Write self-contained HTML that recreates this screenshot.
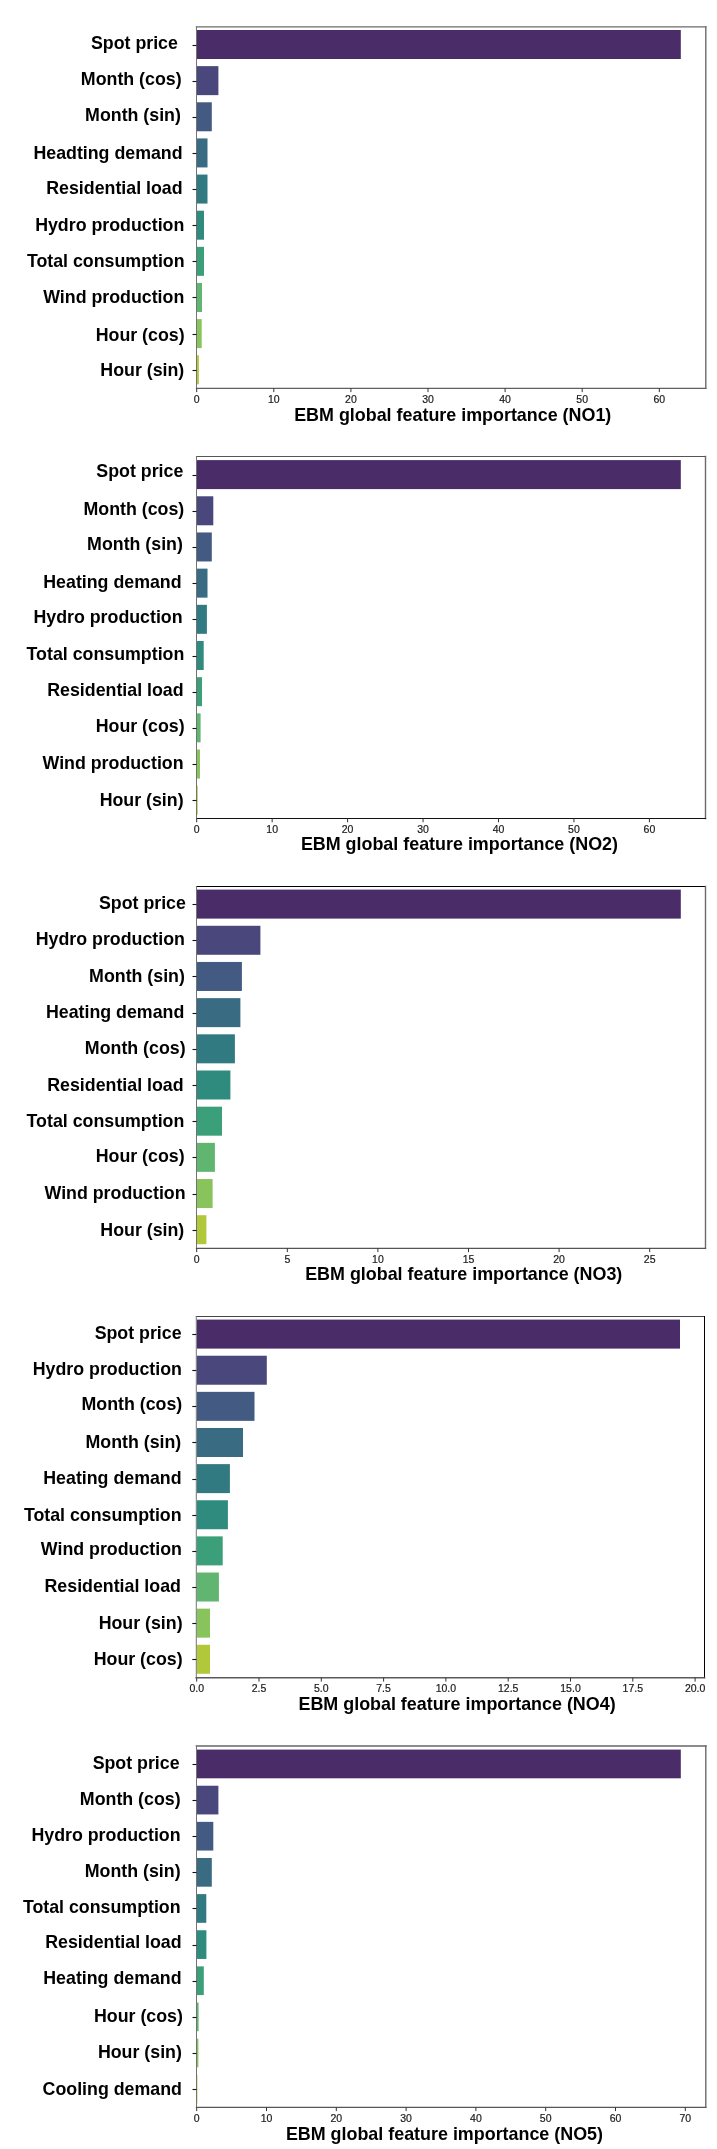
<!DOCTYPE html>
<html><head><meta charset="utf-8"><style>
html,body{margin:0;padding:0;background:#fff;}
body{width:717px;height:2149px;overflow:hidden;}
svg{display:block;}
text{will-change:transform;}
text{font-family:"Liberation Sans",sans-serif;}
.yl{font-size:17.8px;font-weight:bold;fill:#000;text-anchor:end;}
.xl{font-size:17.9px;font-weight:bold;fill:#000;}
.tk{font-size:10.5px;fill:#1a1a1a;stroke:#1a1a1a;stroke-width:0.2px;text-anchor:middle;}
</style></head><body>
<svg width="717" height="2149" viewBox="0 0 717 2149">
<rect width="717" height="2149" fill="#fff"/>
<rect x="197" y="30" width="483.8" height="29" fill="#492c68"/>
<rect x="197" y="66.14" width="21.4" height="29" fill="#4a477c"/>
<rect x="197" y="102.28" width="14.8" height="29" fill="#435a82"/>
<rect x="197" y="138.42" width="10.5" height="29" fill="#396b82"/>
<rect x="197" y="174.56" width="10.5" height="29" fill="#327a81"/>
<rect x="197" y="210.7" width="7" height="29" fill="#2e8b7e"/>
<rect x="197" y="246.84" width="7" height="29" fill="#3b9f7a"/>
<rect x="197" y="282.98" width="5" height="29" fill="#60b671"/>
<rect x="197" y="319.12" width="4.7" height="29" fill="#88c35b"/>
<rect x="197" y="355.26" width="1.9" height="29" fill="#b2c83b"/>
<line x1="196.5" y1="26.9" x2="705.8" y2="26.9" stroke="#6a6a6a" stroke-width="1.4" stroke-linecap="square"/>
<line x1="705.8" y1="26.9" x2="705.8" y2="388.3" stroke="#6a6a6a" stroke-width="1.4" stroke-linecap="square"/>
<line x1="196.5" y1="388.3" x2="705.8" y2="388.3" stroke="#606060" stroke-width="1.2" stroke-linecap="square"/>
<line x1="196.5" y1="26.9" x2="196.5" y2="388.3" stroke="#737373" stroke-width="1.0" stroke-linecap="square"/>
<line x1="192.5" y1="45.5" x2="196.5" y2="45.5" stroke="#111" stroke-width="1.1"/>
<line x1="192.5" y1="81.5" x2="196.5" y2="81.5" stroke="#111" stroke-width="1.1"/>
<line x1="192.5" y1="117.5" x2="196.5" y2="117.5" stroke="#111" stroke-width="1.1"/>
<line x1="192.5" y1="153.5" x2="196.5" y2="153.5" stroke="#111" stroke-width="1.1"/>
<line x1="192.5" y1="189.5" x2="196.5" y2="189.5" stroke="#111" stroke-width="1.1"/>
<line x1="192.5" y1="225.5" x2="196.5" y2="225.5" stroke="#111" stroke-width="1.1"/>
<line x1="192.5" y1="261.5" x2="196.5" y2="261.5" stroke="#111" stroke-width="1.1"/>
<line x1="192.5" y1="297.5" x2="196.5" y2="297.5" stroke="#111" stroke-width="1.1"/>
<line x1="192.5" y1="334.5" x2="196.5" y2="334.5" stroke="#111" stroke-width="1.1"/>
<line x1="192.5" y1="370.5" x2="196.5" y2="370.5" stroke="#111" stroke-width="1.1"/>
<text class="yl" x="177.9" y="49.3">Spot price</text>
<text class="yl" x="181.6" y="85">Month (cos)</text>
<text class="yl" x="180.9" y="120.7">Month (sin)</text>
<text class="yl" x="182.6" y="159">Headting demand</text>
<text class="yl" x="182.6" y="194">Residential load</text>
<text class="yl" x="184.3" y="231">Hydro production</text>
<text class="yl" x="184.6" y="267">Total consumption</text>
<text class="yl" x="184.3" y="303.3">Wind production</text>
<text class="yl" x="184.6" y="341">Hour (cos)</text>
<text class="yl" x="184.3" y="376">Hour (sin)</text>
<line x1="196.7" y1="388.3" x2="196.7" y2="392.1" stroke="#333" stroke-width="1"/>
<text class="tk" x="196.7" y="402.8">0</text>
<line x1="273.8" y1="388.3" x2="273.8" y2="392.1" stroke="#333" stroke-width="1"/>
<text class="tk" x="273.8" y="402.8">10</text>
<line x1="350.9" y1="388.3" x2="350.9" y2="392.1" stroke="#333" stroke-width="1"/>
<text class="tk" x="350.9" y="402.8">20</text>
<line x1="428" y1="388.3" x2="428" y2="392.1" stroke="#333" stroke-width="1"/>
<text class="tk" x="428" y="402.8">30</text>
<line x1="505.1" y1="388.3" x2="505.1" y2="392.1" stroke="#333" stroke-width="1"/>
<text class="tk" x="505.1" y="402.8">40</text>
<line x1="582.2" y1="388.3" x2="582.2" y2="392.1" stroke="#333" stroke-width="1"/>
<text class="tk" x="582.2" y="402.8">50</text>
<line x1="659.3" y1="388.3" x2="659.3" y2="392.1" stroke="#333" stroke-width="1"/>
<text class="tk" x="659.3" y="402.8">60</text>
<text class="xl" x="294.2" y="421.1">EBM global feature importance (NO1)</text>
<rect x="197" y="460.1" width="483.8" height="29" fill="#492c68"/>
<rect x="197" y="496.28" width="16.3" height="29" fill="#4a477c"/>
<rect x="197" y="532.46" width="14.8" height="29" fill="#435a82"/>
<rect x="197" y="568.64" width="10.5" height="29" fill="#396b82"/>
<rect x="197" y="604.82" width="9.9" height="29" fill="#327a81"/>
<rect x="197" y="641" width="6.7" height="29" fill="#2e8b7e"/>
<rect x="197" y="677.18" width="5" height="29" fill="#3b9f7a"/>
<rect x="197" y="713.36" width="3.6" height="29" fill="#60b671"/>
<rect x="197" y="749.54" width="3" height="29" fill="#88c35b"/>
<rect x="197" y="785.72" width="0.7" height="29" fill="#b2c83b"/>
<line x1="196.5" y1="456.5" x2="705.5" y2="456.5" stroke="#555" stroke-width="1.2" stroke-linecap="square"/>
<line x1="705.5" y1="456.5" x2="705.5" y2="818.5" stroke="#6a6a6a" stroke-width="1.4" stroke-linecap="square"/>
<line x1="196.5" y1="818.5" x2="705.5" y2="818.5" stroke="#111" stroke-width="1.1" stroke-linecap="square"/>
<line x1="196.5" y1="456.5" x2="196.5" y2="818.5" stroke="#737373" stroke-width="1.0" stroke-linecap="square"/>
<line x1="192.5" y1="475.5" x2="196.5" y2="475.5" stroke="#111" stroke-width="1.1"/>
<line x1="192.5" y1="511.5" x2="196.5" y2="511.5" stroke="#111" stroke-width="1.1"/>
<line x1="192.5" y1="547.5" x2="196.5" y2="547.5" stroke="#111" stroke-width="1.1"/>
<line x1="192.5" y1="583.5" x2="196.5" y2="583.5" stroke="#111" stroke-width="1.1"/>
<line x1="192.5" y1="619.5" x2="196.5" y2="619.5" stroke="#111" stroke-width="1.1"/>
<line x1="192.5" y1="656.5" x2="196.5" y2="656.5" stroke="#111" stroke-width="1.1"/>
<line x1="192.5" y1="692.5" x2="196.5" y2="692.5" stroke="#111" stroke-width="1.1"/>
<line x1="192.5" y1="728.5" x2="196.5" y2="728.5" stroke="#111" stroke-width="1.1"/>
<line x1="192.5" y1="764.5" x2="196.5" y2="764.5" stroke="#111" stroke-width="1.1"/>
<line x1="192.5" y1="800.5" x2="196.5" y2="800.5" stroke="#111" stroke-width="1.1"/>
<text class="yl" x="183.3" y="477.3">Spot price</text>
<text class="yl" x="184.3" y="515">Month (cos)</text>
<text class="yl" x="182.9" y="550">Month (sin)</text>
<text class="yl" x="181.6" y="588">Heating demand</text>
<text class="yl" x="182.6" y="622.7">Hydro production</text>
<text class="yl" x="184.3" y="660">Total consumption</text>
<text class="yl" x="183.6" y="696">Residential load</text>
<text class="yl" x="184.6" y="732.3">Hour (cos)</text>
<text class="yl" x="183.6" y="769.3">Wind production</text>
<text class="yl" x="183.6" y="806">Hour (sin)</text>
<line x1="196.7" y1="818.5" x2="196.7" y2="822.3" stroke="#333" stroke-width="1"/>
<text class="tk" x="196.7" y="833">0</text>
<line x1="272.15" y1="818.5" x2="272.15" y2="822.3" stroke="#333" stroke-width="1"/>
<text class="tk" x="272.15" y="833">10</text>
<line x1="347.6" y1="818.5" x2="347.6" y2="822.3" stroke="#333" stroke-width="1"/>
<text class="tk" x="347.6" y="833">20</text>
<line x1="423.05" y1="818.5" x2="423.05" y2="822.3" stroke="#333" stroke-width="1"/>
<text class="tk" x="423.05" y="833">30</text>
<line x1="498.5" y1="818.5" x2="498.5" y2="822.3" stroke="#333" stroke-width="1"/>
<text class="tk" x="498.5" y="833">40</text>
<line x1="573.95" y1="818.5" x2="573.95" y2="822.3" stroke="#333" stroke-width="1"/>
<text class="tk" x="573.95" y="833">50</text>
<line x1="649.4" y1="818.5" x2="649.4" y2="822.3" stroke="#333" stroke-width="1"/>
<text class="tk" x="649.4" y="833">60</text>
<text class="xl" x="300.9" y="850">EBM global feature importance (NO2)</text>
<rect x="197" y="889.6" width="483.8" height="29" fill="#492c68"/>
<rect x="197" y="925.78" width="63.4" height="29" fill="#4a477c"/>
<rect x="197" y="961.96" width="44.9" height="29" fill="#435a82"/>
<rect x="197" y="998.14" width="43.4" height="29" fill="#396b82"/>
<rect x="197" y="1034.32" width="37.9" height="29" fill="#327a81"/>
<rect x="197" y="1070.5" width="33.4" height="29" fill="#2e8b7e"/>
<rect x="197" y="1106.68" width="25" height="29" fill="#3b9f7a"/>
<rect x="197" y="1142.86" width="17.9" height="29" fill="#60b671"/>
<rect x="197" y="1179.04" width="15.6" height="29" fill="#88c35b"/>
<rect x="197" y="1215.22" width="9.4" height="29" fill="#b2c83b"/>
<line x1="196.5" y1="886.5" x2="705.5" y2="886.5" stroke="#000" stroke-width="1.1" stroke-linecap="square"/>
<line x1="705.5" y1="886.5" x2="705.5" y2="1248.3" stroke="#6a6a6a" stroke-width="1.4" stroke-linecap="square"/>
<line x1="196.5" y1="1248.3" x2="705.5" y2="1248.3" stroke="#555" stroke-width="1.2" stroke-linecap="square"/>
<line x1="196.5" y1="886.5" x2="196.5" y2="1248.3" stroke="#737373" stroke-width="1.0" stroke-linecap="square"/>
<line x1="192.5" y1="904.5" x2="196.5" y2="904.5" stroke="#111" stroke-width="1.1"/>
<line x1="192.5" y1="940.5" x2="196.5" y2="940.5" stroke="#111" stroke-width="1.1"/>
<line x1="192.5" y1="976.5" x2="196.5" y2="976.5" stroke="#111" stroke-width="1.1"/>
<line x1="192.5" y1="1013.5" x2="196.5" y2="1013.5" stroke="#111" stroke-width="1.1"/>
<line x1="192.5" y1="1049.5" x2="196.5" y2="1049.5" stroke="#111" stroke-width="1.1"/>
<line x1="192.5" y1="1085.5" x2="196.5" y2="1085.5" stroke="#111" stroke-width="1.1"/>
<line x1="192.5" y1="1121.5" x2="196.5" y2="1121.5" stroke="#111" stroke-width="1.1"/>
<line x1="192.5" y1="1157.5" x2="196.5" y2="1157.5" stroke="#111" stroke-width="1.1"/>
<line x1="192.5" y1="1194.5" x2="196.5" y2="1194.5" stroke="#111" stroke-width="1.1"/>
<line x1="192.5" y1="1230.5" x2="196.5" y2="1230.5" stroke="#111" stroke-width="1.1"/>
<text class="yl" x="185.9" y="909.3">Spot price</text>
<text class="yl" x="184.9" y="945.3">Hydro production</text>
<text class="yl" x="184.9" y="981.7">Month (sin)</text>
<text class="yl" x="184.3" y="1018.3">Heating demand</text>
<text class="yl" x="185.6" y="1054">Month (cos)</text>
<text class="yl" x="183.6" y="1091">Residential load</text>
<text class="yl" x="184.3" y="1126.7">Total consumption</text>
<text class="yl" x="184.6" y="1162.3">Hour (cos)</text>
<text class="yl" x="185.6" y="1199.3">Wind production</text>
<text class="yl" x="184.3" y="1236">Hour (sin)</text>
<line x1="196.7" y1="1248.3" x2="196.7" y2="1252.1" stroke="#333" stroke-width="1"/>
<text class="tk" x="196.7" y="1262.8">0</text>
<line x1="287.3" y1="1248.3" x2="287.3" y2="1252.1" stroke="#333" stroke-width="1"/>
<text class="tk" x="287.3" y="1262.8">5</text>
<line x1="377.9" y1="1248.3" x2="377.9" y2="1252.1" stroke="#333" stroke-width="1"/>
<text class="tk" x="377.9" y="1262.8">10</text>
<line x1="468.5" y1="1248.3" x2="468.5" y2="1252.1" stroke="#333" stroke-width="1"/>
<text class="tk" x="468.5" y="1262.8">15</text>
<line x1="559.1" y1="1248.3" x2="559.1" y2="1252.1" stroke="#333" stroke-width="1"/>
<text class="tk" x="559.1" y="1262.8">20</text>
<line x1="649.7" y1="1248.3" x2="649.7" y2="1252.1" stroke="#333" stroke-width="1"/>
<text class="tk" x="649.7" y="1262.8">25</text>
<text class="xl" x="305.2" y="1280">EBM global feature importance (NO3)</text>
<rect x="196.8" y="1319.6" width="483.2" height="29" fill="#492c68"/>
<rect x="196.8" y="1355.73" width="70" height="29" fill="#4a477c"/>
<rect x="196.8" y="1391.86" width="57.7" height="29" fill="#435a82"/>
<rect x="196.8" y="1427.99" width="46.2" height="29" fill="#396b82"/>
<rect x="196.8" y="1464.12" width="33.1" height="29" fill="#327a81"/>
<rect x="196.8" y="1500.25" width="31.1" height="29" fill="#2e8b7e"/>
<rect x="196.8" y="1536.38" width="25.9" height="29" fill="#3b9f7a"/>
<rect x="196.8" y="1572.51" width="22.1" height="29" fill="#60b671"/>
<rect x="196.8" y="1608.64" width="13.2" height="29" fill="#88c35b"/>
<rect x="196.8" y="1644.77" width="13.2" height="29" fill="#b2c83b"/>
<line x1="196.3" y1="1316.5" x2="704.5" y2="1316.5" stroke="#444" stroke-width="1.0" stroke-linecap="square"/>
<line x1="704.5" y1="1316.5" x2="704.5" y2="1677.8" stroke="#000" stroke-width="1.0" stroke-linecap="square"/>
<line x1="196.3" y1="1677.8" x2="704.5" y2="1677.8" stroke="#5a5a5a" stroke-width="1.6" stroke-linecap="square"/>
<line x1="196.3" y1="1316.5" x2="196.3" y2="1677.8" stroke="#737373" stroke-width="1.0" stroke-linecap="square"/>
<line x1="192.3" y1="1334.5" x2="196.3" y2="1334.5" stroke="#111" stroke-width="1.1"/>
<line x1="192.3" y1="1370.5" x2="196.3" y2="1370.5" stroke="#111" stroke-width="1.1"/>
<line x1="192.3" y1="1406.5" x2="196.3" y2="1406.5" stroke="#111" stroke-width="1.1"/>
<line x1="192.3" y1="1442.5" x2="196.3" y2="1442.5" stroke="#111" stroke-width="1.1"/>
<line x1="192.3" y1="1479.5" x2="196.3" y2="1479.5" stroke="#111" stroke-width="1.1"/>
<line x1="192.3" y1="1515.5" x2="196.3" y2="1515.5" stroke="#111" stroke-width="1.1"/>
<line x1="192.3" y1="1551.5" x2="196.3" y2="1551.5" stroke="#111" stroke-width="1.1"/>
<line x1="192.3" y1="1587.5" x2="196.3" y2="1587.5" stroke="#111" stroke-width="1.1"/>
<line x1="192.3" y1="1623.5" x2="196.3" y2="1623.5" stroke="#111" stroke-width="1.1"/>
<line x1="192.3" y1="1659.5" x2="196.3" y2="1659.5" stroke="#111" stroke-width="1.1"/>
<text class="yl" x="181.6" y="1338.7">Spot price</text>
<text class="yl" x="181.9" y="1375">Hydro production</text>
<text class="yl" x="182.3" y="1410">Month (cos)</text>
<text class="yl" x="181.3" y="1447.7">Month (sin)</text>
<text class="yl" x="181.6" y="1484">Heating demand</text>
<text class="yl" x="181.6" y="1520.7">Total consumption</text>
<text class="yl" x="181.9" y="1555">Wind production</text>
<text class="yl" x="180.9" y="1591.7">Residential load</text>
<text class="yl" x="182.6" y="1629.3">Hour (sin)</text>
<text class="yl" x="182.6" y="1665">Hour (cos)</text>
<line x1="196.7" y1="1677.8" x2="196.7" y2="1681.6" stroke="#333" stroke-width="1"/>
<text class="tk" x="196.7" y="1692.3">0.0</text>
<line x1="259" y1="1677.8" x2="259" y2="1681.6" stroke="#333" stroke-width="1"/>
<text class="tk" x="259" y="1692.3">2.5</text>
<line x1="321.3" y1="1677.8" x2="321.3" y2="1681.6" stroke="#333" stroke-width="1"/>
<text class="tk" x="321.3" y="1692.3">5.0</text>
<line x1="383.6" y1="1677.8" x2="383.6" y2="1681.6" stroke="#333" stroke-width="1"/>
<text class="tk" x="383.6" y="1692.3">7.5</text>
<line x1="445.9" y1="1677.8" x2="445.9" y2="1681.6" stroke="#333" stroke-width="1"/>
<text class="tk" x="445.9" y="1692.3">10.0</text>
<line x1="508.2" y1="1677.8" x2="508.2" y2="1681.6" stroke="#333" stroke-width="1"/>
<text class="tk" x="508.2" y="1692.3">12.5</text>
<line x1="570.5" y1="1677.8" x2="570.5" y2="1681.6" stroke="#333" stroke-width="1"/>
<text class="tk" x="570.5" y="1692.3">15.0</text>
<line x1="632.8" y1="1677.8" x2="632.8" y2="1681.6" stroke="#333" stroke-width="1"/>
<text class="tk" x="632.8" y="1692.3">17.5</text>
<line x1="695.1" y1="1677.8" x2="695.1" y2="1681.6" stroke="#333" stroke-width="1"/>
<text class="tk" x="695.1" y="1692.3">20.0</text>
<text class="xl" x="298.5" y="1710">EBM global feature importance (NO4)</text>
<rect x="197" y="1749.6" width="483.8" height="28.7" fill="#492c68"/>
<rect x="197" y="1785.73" width="21.4" height="28.7" fill="#4a477c"/>
<rect x="197" y="1821.86" width="16.3" height="28.7" fill="#435a82"/>
<rect x="197" y="1857.99" width="14.8" height="28.7" fill="#396b82"/>
<rect x="197" y="1894.12" width="9.3" height="28.7" fill="#327a81"/>
<rect x="197" y="1930.25" width="9.4" height="28.7" fill="#2e8b7e"/>
<rect x="197" y="1966.38" width="6.8" height="28.7" fill="#3b9f7a"/>
<rect x="197" y="2002.51" width="1.6" height="28.7" fill="#60b671"/>
<rect x="197" y="2038.64" width="1.4" height="28.7" fill="#88c35b"/>
<rect x="197" y="2074.77" width="0.4" height="28.7" fill="#b2c83b"/>
<line x1="196.5" y1="1746" x2="705.8" y2="1746" stroke="#666" stroke-width="1.6" stroke-linecap="square"/>
<line x1="705.8" y1="1746" x2="705.8" y2="2107.3" stroke="#6a6a6a" stroke-width="1.4" stroke-linecap="square"/>
<line x1="196.5" y1="2107.3" x2="705.8" y2="2107.3" stroke="#555" stroke-width="1.2" stroke-linecap="square"/>
<line x1="196.5" y1="1746" x2="196.5" y2="2107.3" stroke="#737373" stroke-width="1.0" stroke-linecap="square"/>
<line x1="192.5" y1="1764.5" x2="196.5" y2="1764.5" stroke="#111" stroke-width="1.1"/>
<line x1="192.5" y1="1800.5" x2="196.5" y2="1800.5" stroke="#111" stroke-width="1.1"/>
<line x1="192.5" y1="1836.5" x2="196.5" y2="1836.5" stroke="#111" stroke-width="1.1"/>
<line x1="192.5" y1="1872.5" x2="196.5" y2="1872.5" stroke="#111" stroke-width="1.1"/>
<line x1="192.5" y1="1908.5" x2="196.5" y2="1908.5" stroke="#111" stroke-width="1.1"/>
<line x1="192.5" y1="1945.5" x2="196.5" y2="1945.5" stroke="#111" stroke-width="1.1"/>
<line x1="192.5" y1="1981.5" x2="196.5" y2="1981.5" stroke="#111" stroke-width="1.1"/>
<line x1="192.5" y1="2017.5" x2="196.5" y2="2017.5" stroke="#111" stroke-width="1.1"/>
<line x1="192.5" y1="2053.5" x2="196.5" y2="2053.5" stroke="#111" stroke-width="1.1"/>
<line x1="192.5" y1="2089.5" x2="196.5" y2="2089.5" stroke="#111" stroke-width="1.1"/>
<text class="yl" x="179.6" y="1769.3">Spot price</text>
<text class="yl" x="180.6" y="1805">Month (cos)</text>
<text class="yl" x="180.6" y="1840.7">Hydro production</text>
<text class="yl" x="180.6" y="1877.3">Month (sin)</text>
<text class="yl" x="180.6" y="1912.7">Total consumption</text>
<text class="yl" x="181.6" y="1948.3">Residential load</text>
<text class="yl" x="181.6" y="1984">Heating demand</text>
<text class="yl" x="182.9" y="2022.3">Hour (cos)</text>
<text class="yl" x="181.9" y="2058.3">Hour (sin)</text>
<text class="yl" x="181.9" y="2095">Cooling demand</text>
<line x1="196.7" y1="2107.3" x2="196.7" y2="2111.1" stroke="#333" stroke-width="1"/>
<text class="tk" x="196.7" y="2121.8">0</text>
<line x1="266.5" y1="2107.3" x2="266.5" y2="2111.1" stroke="#333" stroke-width="1"/>
<text class="tk" x="266.5" y="2121.8">10</text>
<line x1="336.3" y1="2107.3" x2="336.3" y2="2111.1" stroke="#333" stroke-width="1"/>
<text class="tk" x="336.3" y="2121.8">20</text>
<line x1="406.1" y1="2107.3" x2="406.1" y2="2111.1" stroke="#333" stroke-width="1"/>
<text class="tk" x="406.1" y="2121.8">30</text>
<line x1="475.9" y1="2107.3" x2="475.9" y2="2111.1" stroke="#333" stroke-width="1"/>
<text class="tk" x="475.9" y="2121.8">40</text>
<line x1="545.7" y1="2107.3" x2="545.7" y2="2111.1" stroke="#333" stroke-width="1"/>
<text class="tk" x="545.7" y="2121.8">50</text>
<line x1="615.5" y1="2107.3" x2="615.5" y2="2111.1" stroke="#333" stroke-width="1"/>
<text class="tk" x="615.5" y="2121.8">60</text>
<line x1="685.3" y1="2107.3" x2="685.3" y2="2111.1" stroke="#333" stroke-width="1"/>
<text class="tk" x="685.3" y="2121.8">70</text>
<text class="xl" x="285.9" y="2140">EBM global feature importance (NO5)</text>
</svg>
</body></html>
